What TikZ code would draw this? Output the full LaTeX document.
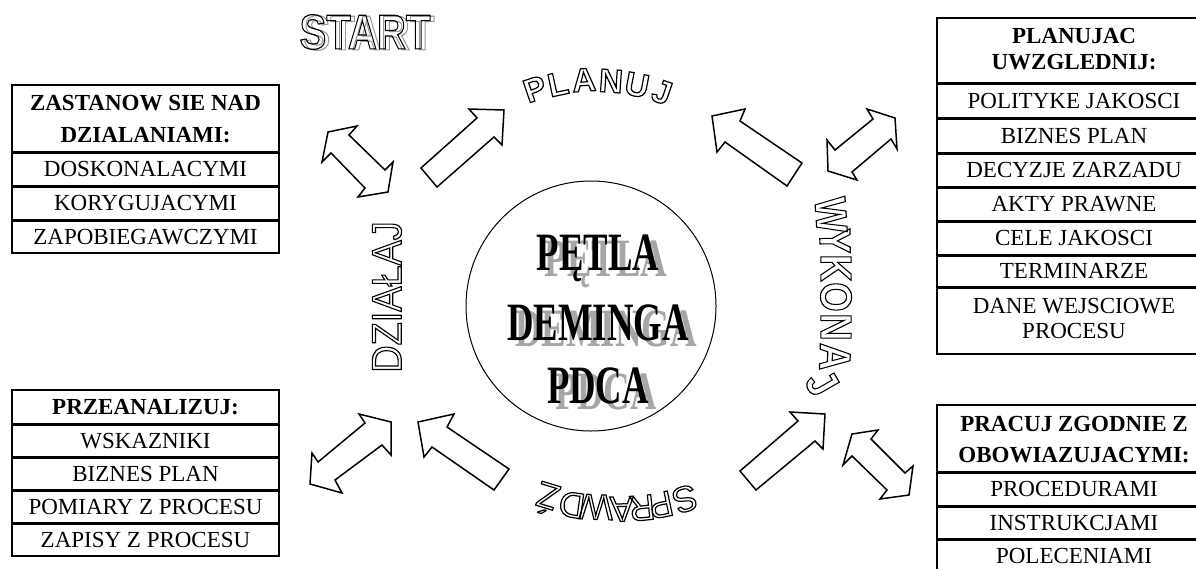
\documentclass[tikz,border=0pt]{standalone}
\usepackage{fontspec}
\setmainfont{Liberation Serif}
\newfontfamily\arialf{Liberation Sans}
\newcommand\hollowtxt[1]{\special{pdf:literal direct 1 Tr 1.2 w}#1\special{pdf:literal direct 0 Tr}}
\begin{document}
\begin{tikzpicture}[x=1pt,y=-1pt,
  cell/.style={draw, line width=1.3pt, inner sep=0pt, text height=15.2pt, text depth=0pt, font=\fontsize{23}{26}\selectfont},
  lcol/.style={minimum width=267pt},
  rcol/.style={minimum width=274pt},
  hd/.style={inner sep=0pt, text height=15.2pt, text depth=0pt, font=\bfseries\fontsize{23}{26}\selectfont},
  sepline/.style={line width=2.4pt},
  blk/.style={draw, fill=white, line width=1.5pt, line join=miter},
  wa/.style={inner sep=0pt},
  ctr/.style={inner sep=0pt, font=\bfseries\fontsize{54}{54}\selectfont, xscale=0.68, anchor=base}]
\fill[white] (0,0) rectangle (1196,568);
\useasboundingbox (0,0) rectangle (1196,568);

% ---------- left top box
\node[cell,lcol,minimum height=67pt] (lt0) at (145.5,118.5) {};
\node[hd] (lt0a) at (145.5,102.5) {ZASTANOW SIE NAD};
\node[hd] (lt0b) at (145.5,135) {DZIALANIAMI:};
\node[cell,lcol,minimum height=34pt] (lt1) at (145.5,169) {DOSKONALACYMI};
\node[cell,lcol,minimum height=34pt] (lt2) at (145.5,203) {KORYGUJACYMI};
\node[cell,lcol,minimum height=33pt] (lt3) at (145.5,236.5) {ZAPOBIEGAWCZYMI};
\foreach \n in {lt0,lt1,lt2} \draw[sepline] (\n.south west) -- (\n.south east);

% ---------- right top box
\node[cell,rcol,minimum height=65pt] (rt0) at (1074,50.5) {};
\node[hd] (rt0a) at (1074,36) {PLANUJAC};
\node[hd] (rt0b) at (1074,62) {UWZGLEDNIJ:};
\node[cell,rcol,minimum height=35pt] (rt1) at (1074,100.5) {POLITYKE JAKOSCI};
\node[cell,rcol,minimum height=35pt] (rt2) at (1074,135.5) {BIZNES PLAN};
\node[cell,rcol,minimum height=34pt] (rt3) at (1074,170) {DECYZJE ZARZADU};
\node[cell,rcol,minimum height=34pt] (rt4) at (1074,204) {AKTY PRAWNE};
\node[cell,rcol,minimum height=34pt] (rt5) at (1074,238) {CELE JAKOSCI};
\node[cell,rcol,minimum height=32pt] (rt6) at (1074,271) {TERMINARZE};
\node[cell,rcol,minimum height=67pt] (rt7) at (1074,320.5) {};
\node[hd,font=\fontsize{23}{26}\selectfont] (rt7a) at (1074,306) {DANE WEJSCIOWE};
\node[hd,font=\fontsize{23}{26}\selectfont] (rt7b) at (1074,330.5) {PROCESU};
\foreach \n in {rt0,rt1,rt2,rt3,rt4,rt5,rt6} \draw[sepline] (\n.south west) -- (\n.south east);

% ---------- left bottom box
\node[cell,lcol,minimum height=34pt,font=\bfseries\fontsize{23}{26}\selectfont] (lb0) at (145.5,407) {PRZEANALIZUJ:};
\node[cell,lcol,minimum height=33pt] (lb1) at (145.5,440.5) {WSKAZNIKI};
\node[cell,lcol,minimum height=33pt] (lb2) at (145.5,473.5) {BIZNES PLAN};
\node[cell,lcol,minimum height=33pt] (lb3) at (145.5,506.5) {POMIARY Z PROCESU};
\node[cell,lcol,minimum height=33pt] (lb4) at (145.5,539.5) {ZAPISY Z PROCESU};
\foreach \n in {lb0,lb1,lb2,lb3} \draw[sepline] (\n.south west) -- (\n.south east);

% ---------- right bottom box
\node[cell,rcol,minimum height=67pt] (rb0) at (1074,438.5) {};
\node[hd] (rb0a) at (1074,424) {PRACUJ ZGODNIE Z};
\node[hd] (rb0b) at (1074,455) {OBOWIAZUJACYMI:};
\node[cell,rcol,minimum height=34pt] (rb1) at (1074,489) {PROCEDURAMI};
\node[cell,rcol,minimum height=33pt] (rb2) at (1074,522.5) {INSTRUKCJAMI};
\node[cell,rcol,minimum height=33pt] (rb3) at (1074,555.5) {POLECENIAMI};
\foreach \n in {rb0,rb1,rb2} \draw[sepline] (\n.south west) -- (\n.south east);

% ---------- centre circle
\node[circle, draw, line width=1pt, minimum size=250pt, inner sep=0pt] (circ) at (591,306) {};
\node[ctr, text=black!35] (s1) at (606,276) {PĘTLA};
\node[ctr, text=black!35] (s2) at (606,346) {DEMINGA};
\node[ctr, text=black!35] (s3) at (606,409) {PDCA};
\node[ctr] (t1) at (598,270) {PĘTLA};
\node[ctr] (t2) at (598,340) {DEMINGA};
\node[ctr] (t3) at (598,403) {PDCA};

% ---------- block arrows
\draw[blk] (328,132) -- (357,126) -- (349,135) -- (385,170) -- (393,162) -- (388,192) -- (358,197) -- (365,188) -- (331,153) -- (322,162) -- cycle;
\draw[blk] (421,168) -- (477,118) -- (469,109) -- (504,110) -- (502,145) -- (494,137) -- (437,187) -- cycle;
\draw[blk] (712,116) -- (745,109) -- (740,121) -- (802,163) -- (787,186) -- (725,142) -- (717,152) -- cycle;
\draw[blk] (867,109) -- (895,118) -- (897,149) -- (891,139) -- (852,172) -- (857,180) -- (828,171) -- (827,140) -- (835,150) -- (873,119) -- cycle;
\draw[blk] (740,471) -- (798,421) -- (790,412) -- (825,414) -- (823,449) -- (815,441) -- (756,490) -- cycle;
\draw[blk] (852,434) -- (878,430) -- (871,439) -- (905,473) -- (913,466) -- (909,495) -- (880,499) -- (887,490) -- (852,456) -- (843,465) -- cycle;
\draw[blk] (359,414) -- (391,422) -- (391,455) -- (382,445) -- (335,480) -- (342,493) -- (310,484) -- (312,453) -- (318,462) -- (365,423) -- cycle;
\draw[blk] (418,422) -- (454,414) -- (447,427) -- (509,469) -- (494,490) -- (432,447) -- (424,457) -- cycle;

% ---------- word art (outlined letters)
\node[wa, text=black!40, font=\arialf\bfseries\fontsize{49}{49}\selectfont, xscale=0.82] (stsh) at (369,33) {\hollowtxt{START}};
\node[wa, font=\arialf\bfseries\fontsize{49}{49}\selectfont, xscale=0.82] (st) at (365,32) {\hollowtxt{START}};

\foreach \ch/\px/\py/\r [count=\i] in {P/535/89/19, L/558/84/12, A/584/80/4, N/611/81/-4, U/637/85/-11, J/662/92/-19}
  \node[wa, font=\arialf\bfseries\fontsize{33}{33}\selectfont, rotate=\r] (pl\i) at (\px,\py) {\hollowtxt{\ch}};

\foreach \ch/\px/\py/\r [count=\i] in {W/831/215/-86, Y/835/241/-89, K/836/268/-90, O/836/297/-90, N/836/327/-90, A/835/357/-92, J/822/383/-60}
  \node[wa, font=\arialf\bfseries\fontsize{44}{44}\selectfont, rotate=\r, xscale=0.86] (wk\i) at (\px,\py) {\hollowtxt{\ch}};

\foreach \ch/\px/\py/\r [count=\i] in {S/685/499/198, P/661/505/192, R/642/508/186, A/622/509/182, W/596/507/178, D/572/505/172, Ź/547/499/163}
  \node[wa, font=\arialf\fontsize{36}{36}\selectfont, rotate=\r] (sp\i) at (\px,\py) {\hollowtxt{\ch}};

\node[wa, font=\arialf\fontsize{42}{42}\selectfont, rotate=90, xscale=0.9] (dz) at (387,297) {\hollowtxt{DZIAŁAJ}};
\end{tikzpicture}
\end{document}
